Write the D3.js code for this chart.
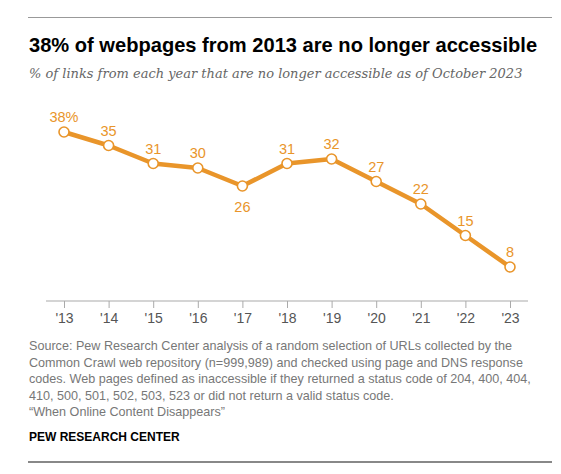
<!DOCTYPE html>
<html><head><meta charset="utf-8">
<script src="https://cdn.jsdelivr.net/npm/d3@7"></script>
<style>body{margin:0;background:#fff}</style>
</head><body>
<script>
const years = ["'13","'14","'15","'16","'17","'18","'19","'20","'21","'22","'23"];
const values = [38,35,31,30,26,31,32,27,22,15,8];
const valueLabels = ["38%","35","31","30","26","31","32","27","22","15","8"];
const labelBelow = [false,false,false,false,true,false,false,false,false,false,false];
const title = "38% of webpages from 2013 are no longer accessible";
const subtitle = "% of links from each year that are no longer accessible as of October 2023";
const sourceLines = [
 "Source: Pew Research Center analysis of a random selection of URLs collected by the",
 "Common Crawl web repository (n=999,989) and checked using page and DNS response",
 "codes. Web pages defined as inaccessible if they returned a status code of 204, 400, 404,",
 "410, 500, 501, 502, 503, 523 or did not return a valid status code.",
 "\u201cWhen Online Content Disappears\u201d"
];
const credit = "PEW RESEARCH CENTER";

const W=561,H=474;
const svg=d3.select("body").append("svg").attr("width",W).attr("height",H);
const orange="#E9952A";

svg.append("line").attr("x1",28).attr("x2",552).attr("y1",17.5).attr("y2",17.5).attr("stroke","#999").attr("stroke-width",1);
svg.append("text").attr("x",29).attr("y",52).text(title)
 .attr("font-family","Liberation Sans, Arial, sans-serif").attr("font-weight","bold").attr("font-size",20.1).attr("fill","#000");
svg.append("text").attr("x",29).attr("y",78).text(subtitle)
 .attr("font-family","DejaVu Serif, Georgia, serif").attr("font-style","italic").attr("font-size",13).attr("fill","#666");

const x=d3.scalePoint().domain(years).range([64,510]);
const y=d3.scaleLinear().domain([0,38]).range([303,132]);

const axisG=svg.append("g").attr("transform","translate(0,301)");
axisG.append("line").attr("x1",46).attr("x2",528).attr("stroke","#aaa").attr("stroke-width",1.2);
const ax=d3.axisBottom(x).tickSize(7).tickPadding(5).tickSizeOuter(0);
const axg=svg.append("g").attr("transform","translate(0,301)").call(ax);
axg.select(".domain").remove();
axg.selectAll(".tick line").attr("stroke","#aaa");
axg.selectAll(".tick text").attr("font-family","Liberation Sans, Arial, sans-serif").attr("font-size",14).attr("fill","#555");

const line=d3.line().x((d,i)=>x(years[i])).y(d=>y(d));
svg.append("path").datum(values).attr("d",line).attr("fill","none").attr("stroke",orange).attr("stroke-width",4.5).attr("stroke-linejoin","round");
svg.selectAll("circle.pt").data(values).enter().append("circle").attr("class","pt")
 .attr("cx",(d,i)=>x(years[i])).attr("cy",d=>y(d)).attr("r",5).attr("fill","#fff").attr("stroke",orange).attr("stroke-width",1.6);
svg.selectAll("text.lbl").data(values).enter().append("text").attr("class","lbl")
 .attr("x",(d,i)=>x(years[i])).attr("y",(d,i)=>labelBelow[i]?y(d)+26:y(d)-10)
 .attr("text-anchor","middle").text((d,i)=>valueLabels[i])
 .attr("font-family","Liberation Sans, Arial, sans-serif").attr("font-size",14.5).attr("fill",orange);

const src=svg.append("g");
sourceLines.forEach((s,i)=>{
 src.append("text").attr("x",29).attr("y",350+i*16.5).text(s)
  .attr("font-family","Liberation Sans, Arial, sans-serif").attr("font-size",12.6).attr("fill","#777");
});
svg.append("text").attr("x",29).attr("y",441).text(credit)
 .attr("font-family","Liberation Sans, Arial, sans-serif").attr("font-weight","bold").attr("font-size",12).attr("fill","#000");
svg.append("line").attr("x1",28).attr("x2",552).attr("y1",462).attr("y2",462).attr("stroke","#888").attr("stroke-width",2);
</script>
</body></html>
